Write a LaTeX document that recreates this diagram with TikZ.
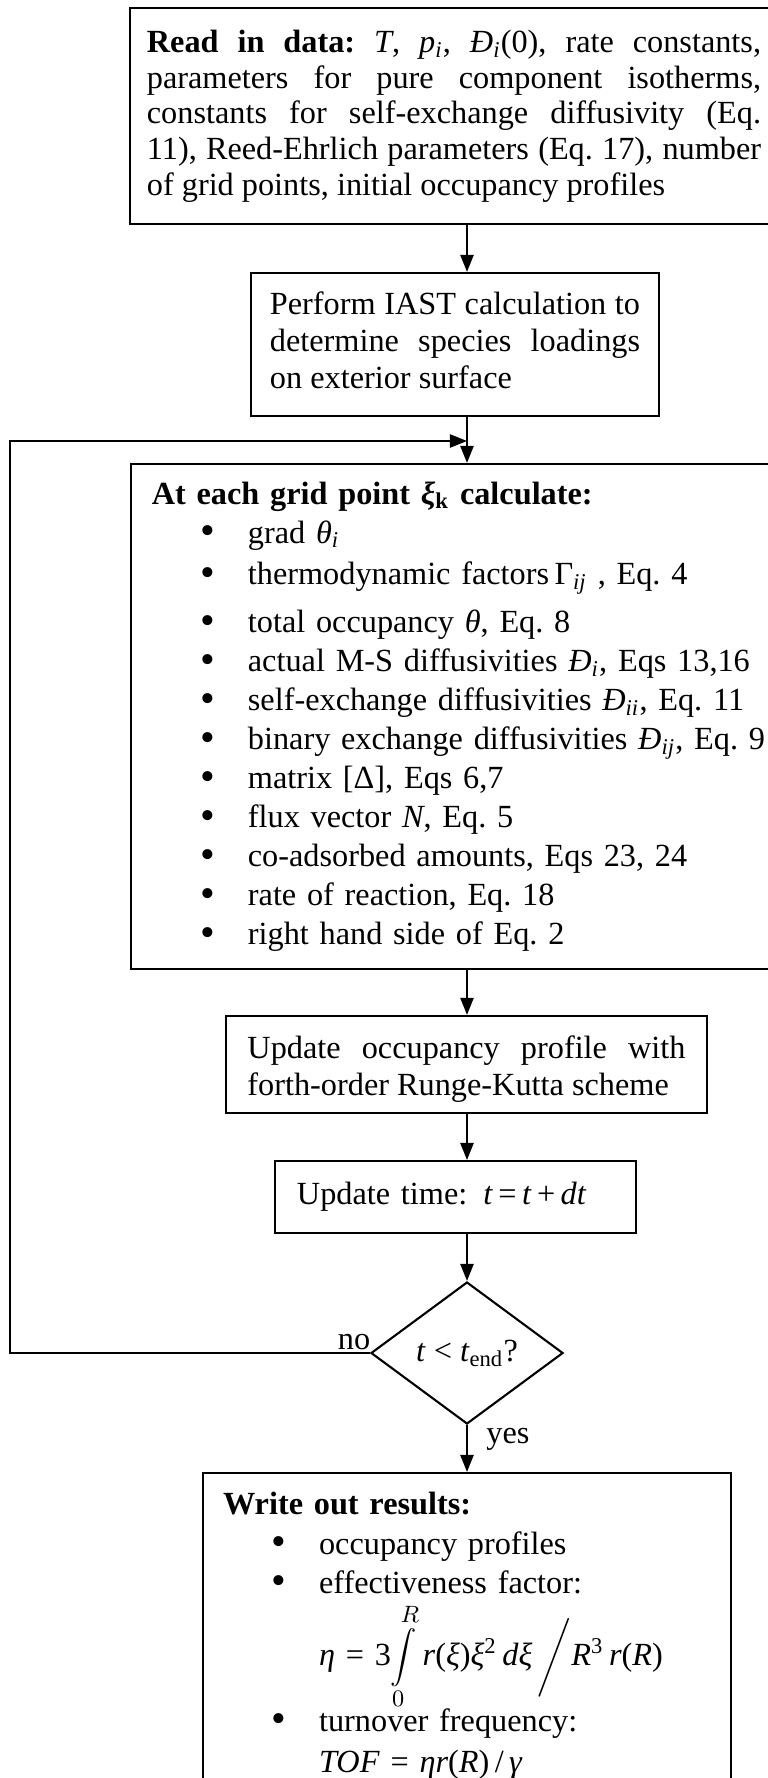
\documentclass[tikz,border=0pt]{standalone}
\usepackage{fontspec}
\setmainfont{Liberation Serif}
\usepackage{tikz}
\usetikzlibrary{arrows.meta,positioning,calc,shapes.geometric}
\setlength{\parindent}{0pt}
\frenchspacing
\newcommand{\DMS}[1]{\textit{Đ}\textsubscript{\textit{#1}}}
\newcommand{\bitem}{\par\hspace*{18.5pt}\makebox[18.1pt][l]{\raisebox{-0.6pt}{\fontsize{16}{16}\selectfont•}}}
\newcommand{\bcont}{\par\hspace*{36.6pt}}

\begin{document}
\begin{tikzpicture}[
  x=0.381pt, y=-0.381pt,
  font=\fontsize{12.3}{13.6}\selectfont,
  line width=0.8pt,
  proc/.style={draw, inner sep=0pt, align=justify},
  dec/.style={draw, diamond, aspect=1.35, inner sep=0pt, minimum width=73.2pt, minimum height=54.1pt},
  flow/.style={-{Triangle[length=6.5pt, width=5pt]}},
  lbl/.style={inner sep=1pt}
]
\clip (0,0) rectangle (768,1778);
\coordinate (ax) at (467,0);
\coordinate (join) at (467,441);

\node[proc, minimum width=247pt, minimum height=82.3pt, text width=234pt] (readin) at (454,116)
  {\textbf{Read in data:} \textit{T}, \textit{p}\textsubscript{\textit{i}}, \DMS{i}(0), rate constants,\linebreak
   parameters for pure component isotherms,\linebreak
   constants for self-exchange diffusivity (Eq.\linebreak
   11), Reed-Ehrlich parameters (Eq. 17), number\linebreak
   of grid points, initial occupancy profiles};
\node[proc, minimum width=155.4pt, minimum height=54.5pt, text width=141pt, font=\fontsize{12.3}{14.1}\selectfont] (iast) at (455,344.5)
  {Perform IAST calculation to\linebreak determine species loadings\linebreak on exterior surface\vspace*{3pt}};
\node[proc, align=left, minimum width=254.9pt, minimum height=192.4pt, text width=239pt, font=\fontsize{12.3}{14.85}\selectfont] (grid) at (465.5,716.5)
  {\textbf{At each grid point \textit{ξ}\textsubscript{k} calculate:}
   \bitem grad \textit{θ}\textsubscript{\textit{i}}\vspace*{1.1pt}
   \bitem thermodynamic factors\,Γ\textsubscript{\textit{ij}} , Eq. 4\vspace*{3.4pt}
   \bitem total occupancy \textit{θ}, Eq. 8
   \bitem actual M-S diffusivities \DMS{i}, Eqs 13,16
   \bitem self-exchange diffusivities \DMS{ii}, Eq. 11
   \bitem binary exchange diffusivities \DMS{ij}, Eq. 9
   \bitem matrix [Δ], Eqs 6,7
   \bitem flux vector \textit{N}, Eq. 5
   \bitem co-adsorbed amounts, Eqs 23, 24
   \bitem rate of reaction, Eq. 18
   \bitem right hand side of Eq. 2};
\node[proc, minimum width=183.3pt, minimum height=37pt, text width=166.9pt, font=\fontsize{12.3}{14.1}\selectfont] (rk) at (466.5,1064.5)
  {Update occupancy profile with\linebreak forth-order Runge-Kutta scheme\vspace*{-3.5pt}};
\node[proc, align=left, minimum width=137.5pt, minimum height=27.4pt, text width=120.8pt] (tupd) at (455.5,1197)
  {Update time: \,\textit{t}\,=\,\textit{t}\,+\,\textit{dt}};
\node[dec] (check) at (467,1353) {\textit{t} < \textit{t}\textsubscript{end}?};
\node[proc, align=left, minimum width=201.2pt, minimum height=124.2pt, text width=185.9pt, font=\fontsize{12.3}{15}\selectfont] (output) at (467,1636)
  {\textbf{Write out results:}
   \bitem occupancy profiles
   \bitem effectiveness factor:\vspace*{2.5pt}
   \bcont\textit{η} = 3$\displaystyle\int\limits_0^R$\,\textit{r}(\textit{ξ})\textit{ξ}\textsuperscript{2}\,\textit{dξ}\,$\Bigg/$\textit{R}\textsuperscript{3}\,\textit{r}(\textit{R})\vspace*{-1.1pt}
   \bitem turnover frequency:\vspace*{0.9pt}
   \bcont\textit{TOF} = \textit{ηr}(\textit{R})\,/\,\textit{γ}};

\draw[flow] (ax |- readin.south) -- (ax |- iast.north);
\draw[flow] (ax |- iast.south) -- (ax |- grid.north);
\draw[flow] (ax |- grid.south) -- (ax |- rk.north);
\draw[flow] (ax |- rk.south) -- (ax |- tupd.north);
\draw[flow] (ax |- tupd.south) -- (check.north);
\draw[flow] (check.south) -- node[lbl, pos=0, anchor=north west, xshift=6pt]{yes} (output.north);
\draw[flow] (check.west) node[lbl, anchor=south east, xshift=1.5pt]{no} -- ++(-360,0) |- (join);
\end{tikzpicture}
\end{document}
